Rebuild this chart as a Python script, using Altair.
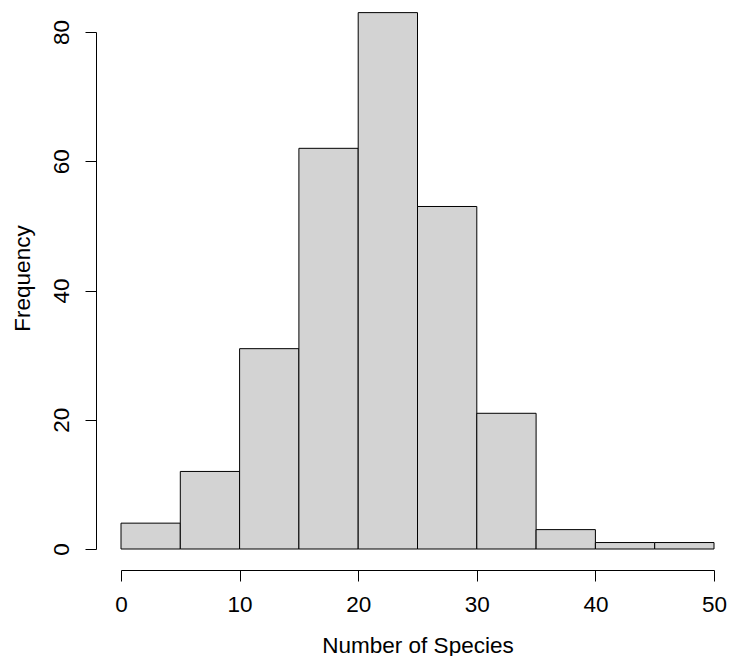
import altair as alt
import pandas as pd

bin_start = [0, 5, 10, 15, 20, 25, 30, 35, 40, 45]
bin_end = [5, 10, 15, 20, 25, 30, 35, 40, 45, 50]
counts = [4, 12, 31, 62, 83, 53, 21, 3, 1, 1]

df = pd.DataFrame({"start": bin_start, "end": bin_end, "count": counts})

FONT = "Liberation Sans"
FS = 22.5

chart = alt.Chart(df).mark_bar(
    fill="#D3D3D3", stroke="black", strokeWidth=1, clip=False
).encode(
    x=alt.X("start:Q",
            scale=alt.Scale(domain=[0, 50], nice=False, zero=False),
            axis=alt.Axis(values=[0, 10, 20, 30, 40, 50], title="Number of Species",
                          offset=21, grid=False, tickSize=11, labelPadding=23,
                          labelBaseline="middle", labelFontSize=FS, labelFont=FONT,
                          labelColor="black", domainColor="black", tickColor="black",
                          titleFont=FONT, titleFontSize=FS, titleFontWeight="normal",
                          titleColor="black", titleBaseline="middle", titleY=75,
                          labelFlush=False)),
    x2="end:Q",
    y=alt.Y("count:Q",
            scale=alt.Scale(domain=[0, 80], nice=False),
            axis=alt.Axis(values=[0, 20, 40, 60, 80], title="Frequency",
                          offset=25, grid=False, tickSize=11, labelPadding=24,
                          labelAngle=-90, labelAlign="center", labelBaseline="middle",
                          labelFontSize=FS, labelFont=FONT, labelColor="black",
                          domainColor="black", tickColor="black",
                          titleFont=FONT, titleFontSize=FS, titleFontWeight="normal",
                          titleColor="black", titleAnchor="start", titleY=246,
                          titleX=-74, titleAlign="center", titleBaseline="middle",
                          labelFlush=False)),
    y2=alt.datum(0),
).properties(
    width=593, height=517,
    autosize=alt.AutoSizeParams(type="none"),
    padding={"left": 113, "top": 24, "right": 13, "bottom": 107},
).configure_view(stroke=None)

chart.save("out.html", embed_options={"renderer": "svg", "actions": False})
